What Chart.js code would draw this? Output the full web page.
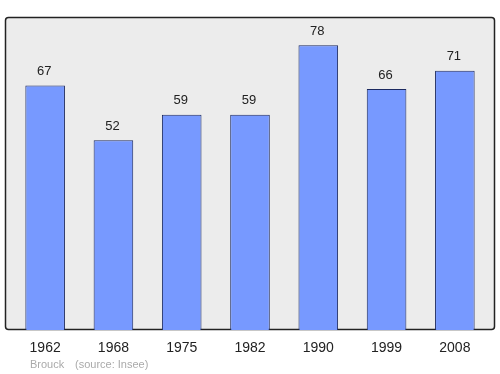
<!DOCTYPE html>
<html>
<head>
<meta charset="utf-8">
<script src="https://cdn.jsdelivr.net/npm/chart.js@4/dist/chart.umd.min.js"></script>
<style>
  html, body { margin: 0; padding: 0; background: #fff; }
  #wrap { width: 500px; height: 374px; position: relative; }
</style>
</head>
<body>
<div id="wrap"><canvas id="chart" width="500" height="374"></canvas></div>
<script>
const annees = ['1962', '1968', '1975', '1982', '1990', '1999', '2008'];
const population = [67, 52, 59, 59, 78, 66, 71];
const commune = 'Brouck';
const source = '(source: Insee)';
const police = '"Liberation Sans", Arial, sans-serif';

// fond gris avec bord noir
const fondPlugin = {
  id: 'fond',
  beforeDraw(chart) {
    const ctx = chart.ctx;
    ctx.save();
    ctx.fillStyle = '#ececec';
    ctx.strokeStyle = '#222';
    ctx.lineWidth = 1.5;
    ctx.beginPath();
    ctx.roundRect(5.5, 17.5, 489, 312, 3);
    ctx.fill();
    ctx.stroke();
    ctx.restore();
  },
  afterDraw(chart) {
    const ctx = chart.ctx;
    ctx.save();
    ctx.fillStyle = '#aaa';
    ctx.font = '11px ' + police;
    ctx.textBaseline = 'middle';
    ctx.fillText(commune, 30, 365);
    ctx.fillText(source, 75, 365);
    ctx.restore();
  }
};

// valeurs au-dessus des barres
const valeursPlugin = {
  id: 'valeurs',
  afterDatasetsDraw(chart) {
    const ctx = chart.ctx;
    const meta = chart.getDatasetMeta(0);
    ctx.save();
    ctx.fillStyle = '#222';
    ctx.font = '13px ' + police;
    ctx.textAlign = 'center';
    ctx.textBaseline = 'middle';
    meta.data.forEach((bar, i) => {
      ctx.fillText(population[i], bar.x - 1, bar.y - 14);
    });
    ctx.restore();
  }
};

new Chart(document.getElementById('chart'), {
  type: 'bar',
  data: {
    labels: annees,
    datasets: [{
      data: population,
      backgroundColor: '#7799ff',
      borderColor: '#1c2a60',
      borderWidth: 1,
      barPercentage: 0.58,
      categoryPercentage: 1
    }]
  },
  options: {
    responsive: false,
    animation: false,
    layout: { padding: { left: 11, right: 11, top: 17, bottom: 0 } },
    plugins: {
      legend: { display: false },
      tooltip: { enabled: false }
    },
    scales: {
      x: {
        grid: { display: false },
        border: { display: false },
        ticks: {
          color: '#222',
          padding: 2,
          font: { size: 14, family: police }
        },
        afterFit(s) { s.height = 44; }
      },
      y: {
        display: false,
        min: 0,
        max: 85.75
      }
    }
  },
  plugins: [fondPlugin, valeursPlugin]
});
</script>
</body>
</html>
